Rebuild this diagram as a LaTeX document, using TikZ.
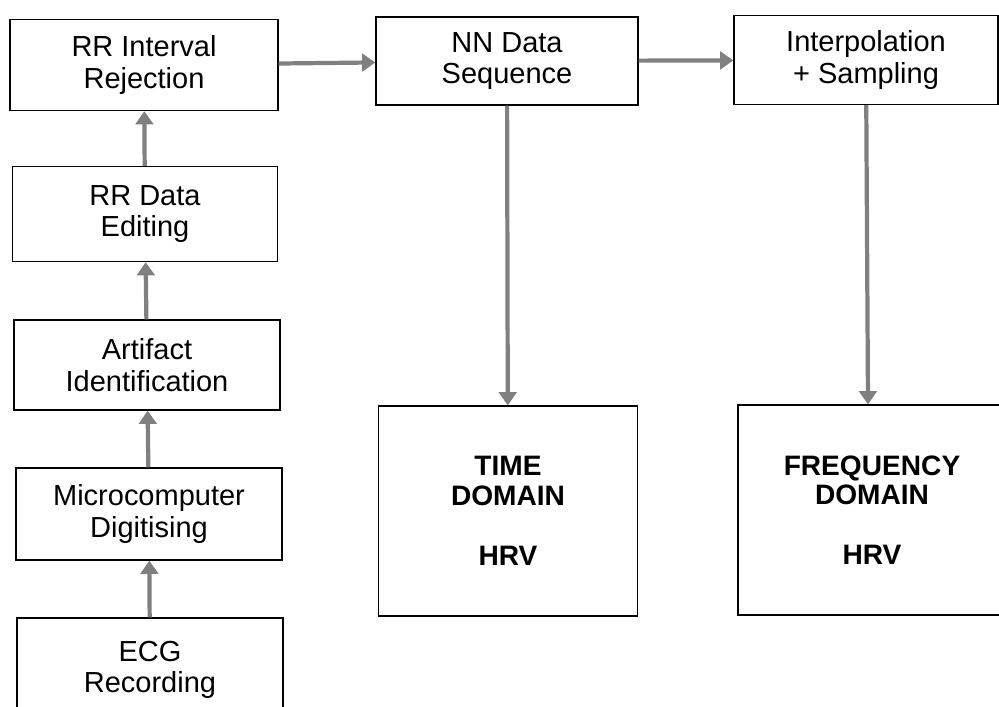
\documentclass[tikz,border=0pt]{standalone}
\usepackage{fontspec}
\setmainfont{Liberation Sans}
\usepackage{xcolor}
\usetikzlibrary{arrows.meta}

\begin{document}
\begin{tikzpicture}[x=0.02cm,y=-0.02cm,
    box/.style={draw,line width=0.8pt,align=center,inner sep=0pt,
        font=\fontsize{16.5}{18}\selectfont},
    dom/.style={box,font=\fontsize{16}{17}\selectfont\bfseries},
    flow/.style={draw=gray,line width=2.4pt,-{Triangle[width=10pt,length=7.5pt]}}]
    \useasboundingbox (0,0) rectangle (999,706);
    \node[box,minimum width=5.36cm,minimum height=1.82cm] (rej) at (144,65) {RR Interval\\Rejection};
    \node[box,minimum width=5.3cm,minimum height=1.9cm] (edit) at (145,214) {RR Data\\Editing};
    \node[box,minimum width=5.32cm,minimum height=1.8cm] (art) at (147,365) {Artifact\\Identification};
    \node[box,minimum width=5.32cm,minimum height=1.84cm] (dig) at (149,514) {Microcomputer\\Digitising};
    \node[box,minimum width=5.32cm,minimum height=2.08cm] (ecg) at (150,670) {ECG\\Recording};
    \node[box,minimum width=5.24cm,minimum height=1.76cm] (nn) at (507,61) {NN Data\\Sequence};
    \node[box,minimum width=5.28cm,minimum height=1.78cm] (interp) at (866,60) {Interpolation\\+ Sampling};
    \node[dom,minimum width=5.18cm,minimum height=4.2cm] (time) at (508,511) {TIME\\DOMAIN\\[17pt]HRV};
    \node[dom,minimum width=5.36cm,minimum height=4.2cm] (freq) at (872,510) {FREQUENCY\\DOMAIN\\[17pt]HRV};
    \draw[flow] (ecg) to (dig);
    \draw[flow] (dig) to (art);
    \draw[flow] (art) to (edit);
    \draw[flow] (edit) to (rej);
    \draw[flow] (rej) to (nn);
    \draw[flow] (nn) to (interp);
    \draw[flow] (nn) to (time);
    \draw[flow] (interp) to ([xshift=-0.08cm]freq.north);
\end{tikzpicture}
\end{document}
